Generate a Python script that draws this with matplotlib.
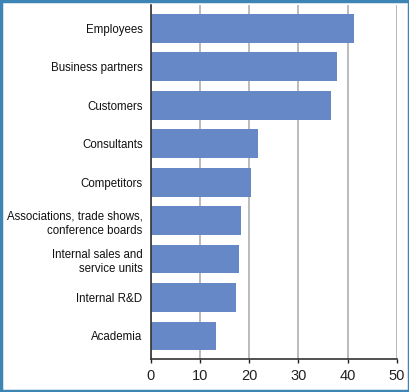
import matplotlib.pyplot as plt
from matplotlib.patches import Rectangle

categories = ["Employees", "Business partners", "Customers", "Consultants",
              "Competitors", "Associations, trade shows,\nconference boards",
              "Internal sales and\nservice units", "Internal R&D", "Academia"]
values = [41.3, 37.8, 36.6, 21.7, 20.3, 18.3, 17.9, 17.3, 13.2]
xticks = [0, 10, 20, 30, 40, 50]

plt.rcParams['font.family'] = ['Liberation Sans', 'DejaVu Sans']

fig = plt.figure(figsize=(4.10, 3.92), dpi=100)
ax = fig.add_axes([0.368, 0.084, 0.600, 0.903])

ypos = list(range(len(categories)))
ax.barh(ypos, values, height=0.75, color='#6788c7', zorder=3)

ax.set_xlim(0, 50)
ax.set_ylim(len(categories) - 0.4, -0.6)
ax.set_xticks(xticks)
ax.set_yticks(ypos)
ax.set_yticklabels(categories, fontsize=8.3, color='#111111', linespacing=1.3)
ax.tick_params(axis='x', labelsize=10.5, colors='#222222', length=3, width=1,
               pad=4)
ax.tick_params(axis='y', length=0, pad=6)
for lab in ax.get_yticklabels():
    lab.set_multialignment('right')

ax.grid(axis='x', color='#b5b5b5', linewidth=1.3, zorder=0)
for s in ['top', 'right']:
    ax.spines[s].set_visible(False)
for s in ['left', 'bottom']:
    ax.spines[s].set_color('#333333')
    ax.spines[s].set_linewidth(1.2)
    ax.spines[s].set_zorder(4)

# blue frame around the figure
fig.patches.append(Rectangle((0.003, 0.003), 0.994, 0.994, transform=fig.transFigure,
                             fill=False, edgecolor='#3d85b5', linewidth=2.5))

fig.savefig('out.png', dpi=100)
